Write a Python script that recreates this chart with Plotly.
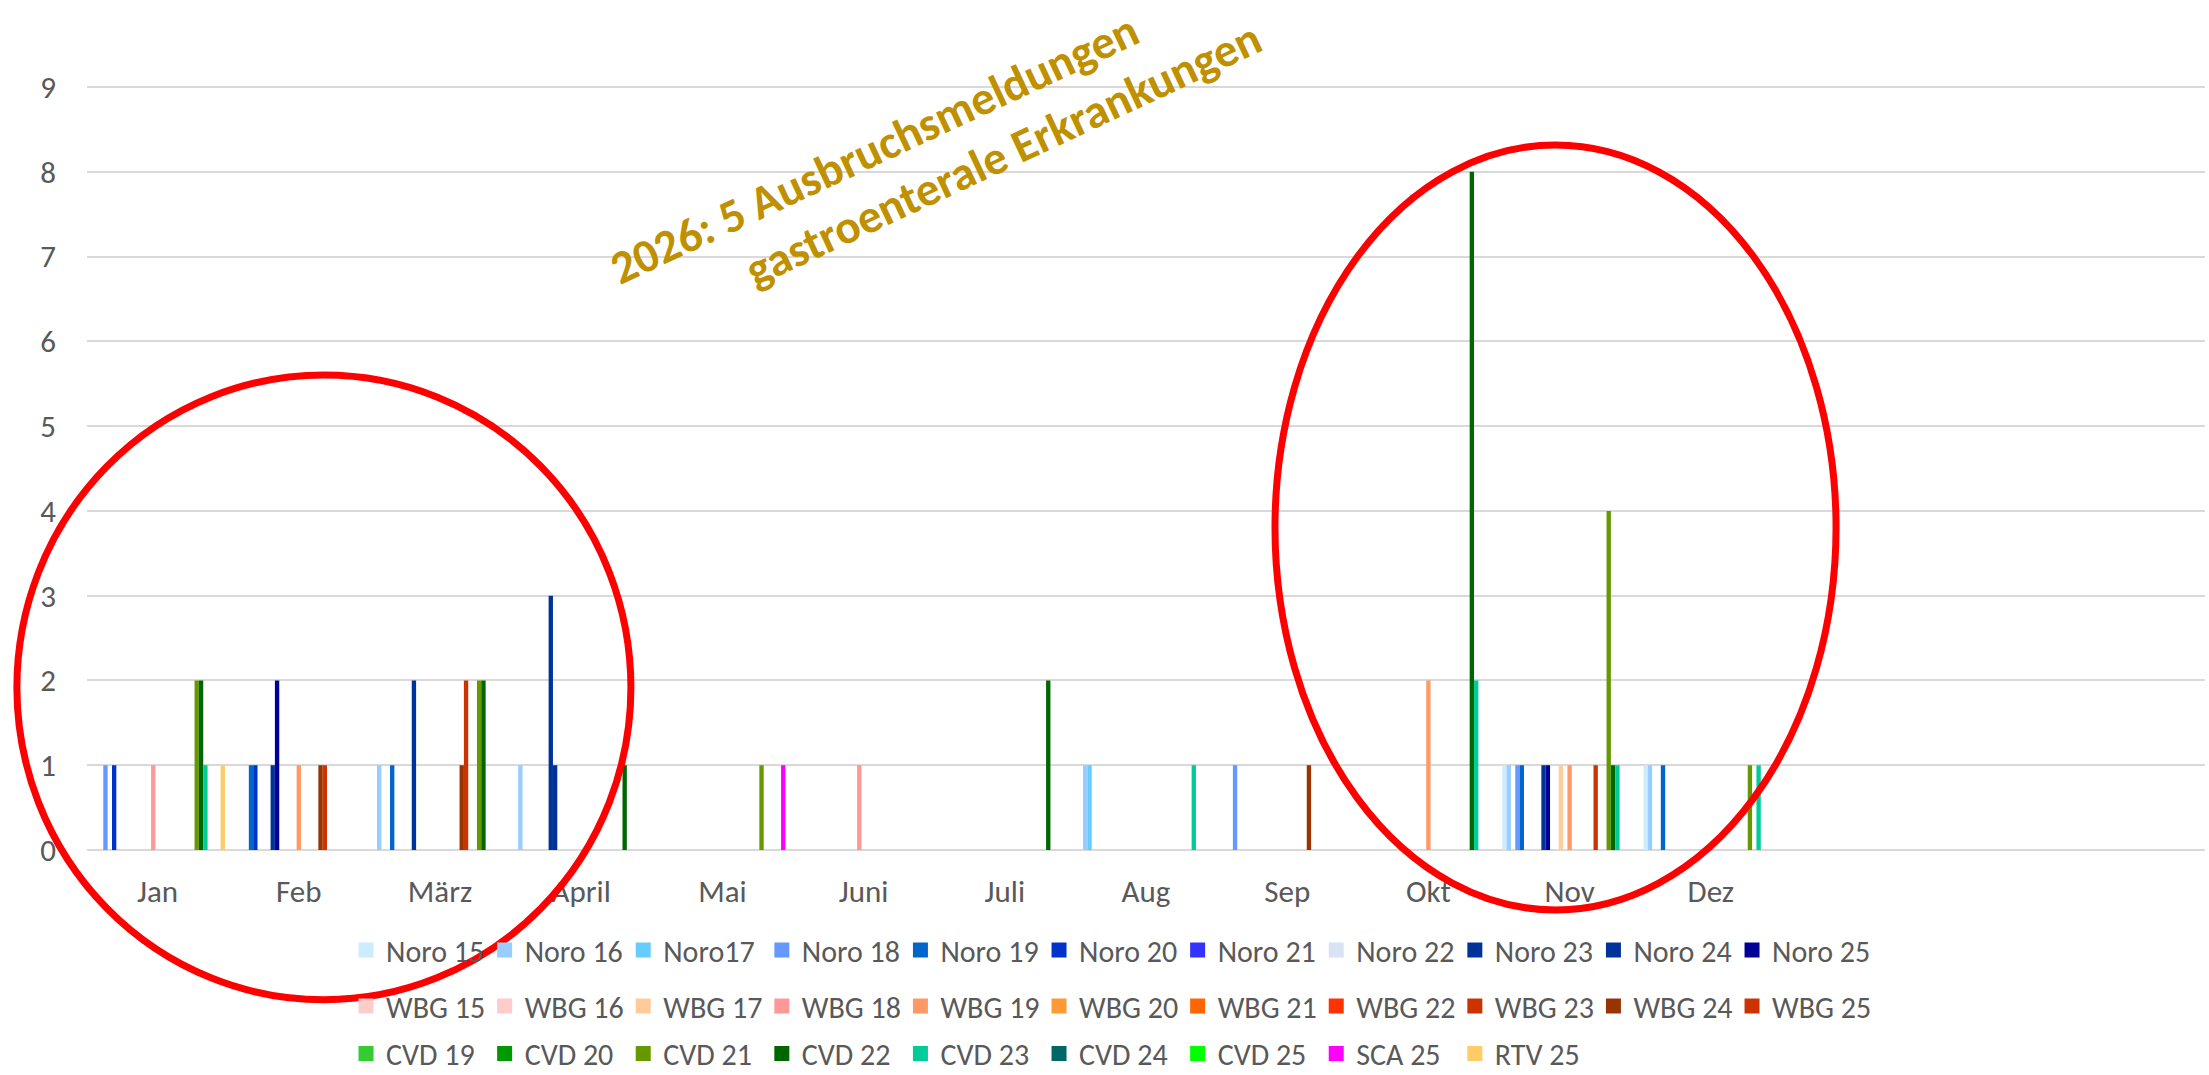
import plotly.graph_objects as go

MONTHS = ["Jan", "Feb", "März", "April", "Mai", "Juni", "Juli", "Aug", "Sep", "Okt", "Nov", "Dez"]

# outbreak counts per month (Jan..Dez), one list per series
NORO = {
    "Noro 15": [0, 0, 0, 0, 0, 0, 0, 0, 0, 0, 1, 1],
    "Noro 16": [0, 0, 1, 1, 0, 0, 0, 1, 0, 0, 1, 1],
    "Noro17":  [0, 0, 0, 0, 0, 0, 0, 1, 0, 0, 0, 0],
    "Noro 18": [1, 0, 0, 0, 0, 0, 0, 0, 1, 0, 1, 0],
    "Noro 19": [0, 1, 1, 0, 0, 0, 0, 0, 0, 0, 1, 1],
    "Noro 20": [1, 1, 0, 0, 0, 0, 0, 0, 0, 0, 0, 0],
    "Noro 21": [0, 0, 0, 0, 0, 0, 0, 0, 0, 0, 0, 0],
    "Noro 22": [0, 0, 0, 0, 0, 0, 0, 0, 0, 0, 0, 0],
    "Noro 23": [0, 0, 0, 3, 0, 0, 0, 0, 0, 0, 0, 0],
    "Noro 24": [0, 1, 2, 1, 0, 0, 0, 0, 0, 0, 1, 0],
    "Noro 25": [0, 2, 0, 0, 0, 0, 0, 0, 0, 0, 1, 0],
}
NORO_COLORS = ["#CCECFF", "#99CCFF", "#66CCFF", "#6699FF", "#0066CC", "#0033CC",
               "#3333FF", "#DAE3F3", "#003399", "#003399", "#000099"]

WBG = {
    "WBG 15": [0, 0, 0, 0, 0, 0, 0, 0, 0, 0, 0, 0],
    "WBG 16": [0, 0, 0, 0, 0, 0, 0, 0, 0, 0, 0, 0],
    "WBG 17": [0, 0, 0, 0, 0, 0, 0, 0, 0, 0, 1, 0],
    "WBG 18": [1, 0, 0, 0, 0, 1, 0, 0, 0, 0, 0, 0],
    "WBG 19": [0, 1, 0, 0, 0, 0, 0, 0, 0, 2, 1, 0],
    "WBG 20": [0, 0, 0, 0, 0, 0, 0, 0, 0, 0, 0, 0],
    "WBG 21": [0, 0, 0, 0, 0, 0, 0, 0, 0, 0, 0, 0],
    "WBG 22": [0, 0, 0, 0, 0, 0, 0, 0, 0, 0, 0, 0],
    "WBG 23": [0, 0, 0, 0, 0, 0, 0, 0, 0, 0, 0, 0],
    "WBG 24": [0, 1, 1, 0, 0, 0, 0, 0, 1, 0, 0, 0],
    "WBG 25": [0, 1, 2, 0, 0, 0, 0, 0, 0, 0, 1, 0],
}
WBG_COLORS = ["#FFCCCC", "#FFCCCC", "#FFCC99", "#FF9999", "#FF9966", "#FF9933",
              "#FF6600", "#FF3300", "#CC3300", "#993300", "#CC3300"]

CVD = {
    "CVD 19": [0, 0, 0, 0, 0, 0, 0, 0, 0, 0, 0, 0],
    "CVD 20": [0, 0, 0, 0, 0, 0, 0, 0, 0, 0, 0, 0],
    "CVD 21": [2, 0, 2, 0, 1, 0, 0, 0, 0, 0, 4, 1],
    "CVD 22": [2, 0, 2, 1, 0, 0, 2, 0, 0, 8, 1, 0],
    "CVD 23": [1, 0, 0, 0, 0, 0, 0, 1, 0, 2, 1, 1],
    "CVD 24": [0, 0, 0, 0, 0, 0, 0, 0, 0, 0, 0, 0],
    "CVD 25": [0, 0, 0, 0, 0, 0, 0, 0, 0, 0, 0, 0],
}
CVD_COLORS = ["#33CC33", "#009900", "#669900", "#006600", "#00CC99", "#006666", "#00FF00"]

OTHER = {
    "SCA 25": [0, 0, 0, 0, 1, 0, 0, 0, 0, 0, 0, 0],
    "RTV 25": [1, 0, 0, 0, 0, 0, 0, 0, 0, 0, 0, 0],
}
OTHER_COLORS = ["#FF00FF", "#FFCC66"]

Y_TICKS = [0, 1, 2, 3, 4, 5, 6, 7, 8, 9]
TITLE_LINE_1 = "2026: 5 Ausbruchsmeldungen"
TITLE_LINE_2 = "gastroenterale Erkrankungen"

FONT = "Calibri, Carlito, Lato, sans-serif"
GREY = "#595959"

fig = go.Figure()
groups = [(NORO, NORO_COLORS, "legend"), (WBG, WBG_COLORS, "legend2"),
          (CVD, CVD_COLORS, "legend3"), (OTHER, OTHER_COLORS, "legend3")]
for data, colors, leg in groups:
    for (name, vals), col in zip(data.items(), colors):
        fig.add_trace(go.Bar(x=MONTHS, y=vals, name=name, marker_color=col,
                             marker_line_width=0, showlegend=False, legendgroup=name))
# legend entries (square swatches)
for data, colors, leg in groups:
    for name, col in zip(data.keys(), colors):
        fig.add_trace(go.Scatter(x=[None], y=[None], mode="markers", name=name,
                                 marker=dict(symbol="square", size=15, color=col),
                                 legend=leg, legendgroup=name, showlegend=True))

leg_common = dict(orientation="h", xanchor="left", yanchor="middle",
                  font=dict(family=FONT, size=30, color=GREY),
                  entrywidth=93.6, entrywidthmode="pixels", itemwidth=30,
                  bgcolor="rgba(0,0,0,0)", traceorder="normal")

fig.update_layout(
    width=2209, height=1075,
    margin=dict(l=87, r=4, t=86, b=225, autoexpand=False),
    paper_bgcolor="white", plot_bgcolor="white",
    barmode="group", bargap=0.046, bargroupgap=0,
    font=dict(family=FONT, size=30, color=GREY),
    xaxis=dict(type="category", categoryorder="array", categoryarray=MONTHS,
               range=[-0.5, 14.5], showgrid=False, showline=False, zeroline=False,
               ticks="", tickfont=dict(family=FONT, size=31, color=GREY),
               ticklabelstandoff=20),
    yaxis=dict(range=[0, 9.012], tickvals=Y_TICKS, showgrid=True, gridcolor="#D9D9D9",
               gridwidth=1.5, zeroline=True, zerolinecolor="#D9D9D9", zerolinewidth=1.5,
               showline=False, ticks="", tickfont=dict(family=FONT, size=31, color=GREY),
               ticklabelstandoff=30),
    legend=dict(x=0.1223, y=-0.1309, **leg_common),
    legend2=dict(x=0.1223, y=-0.2042, **leg_common),
    legend3=dict(x=0.1223, y=-0.2665, **leg_common),
    showlegend=True,
)

title_font = dict(family=FONT, size=47, color="#BF9000", weight="bold")
fig.add_annotation(xref="paper", yref="paper", x=0.3716, y=0.9180, text=TITLE_LINE_1,
                   showarrow=False, textangle=-25, xanchor="center", yanchor="middle",
                   borderpad=0, font=title_font)
fig.add_annotation(xref="paper", yref="paper", x=0.4325, y=0.9110, text=TITLE_LINE_2,
                   showarrow=False, textangle=-25, xanchor="center", yanchor="middle",
                   borderpad=0, font=title_font)

fig.add_shape(type="circle", xref="paper", yref="paper", layer="above",
              x0=-0.0331, x1=0.2568, y0=-0.196, y1=0.6217,
              line=dict(color="#FF0000", width=7))
fig.add_shape(type="circle", xref="paper", yref="paper", layer="above",
              x0=0.5609, x1=0.8258, y0=-0.0785, y1=0.9228,
              line=dict(color="#FF0000", width=7))

fig.write_html("out.html", config={"displayModeBar": False},
               post_script="document.body.style.margin='0';document.body.style.padding='0';")
